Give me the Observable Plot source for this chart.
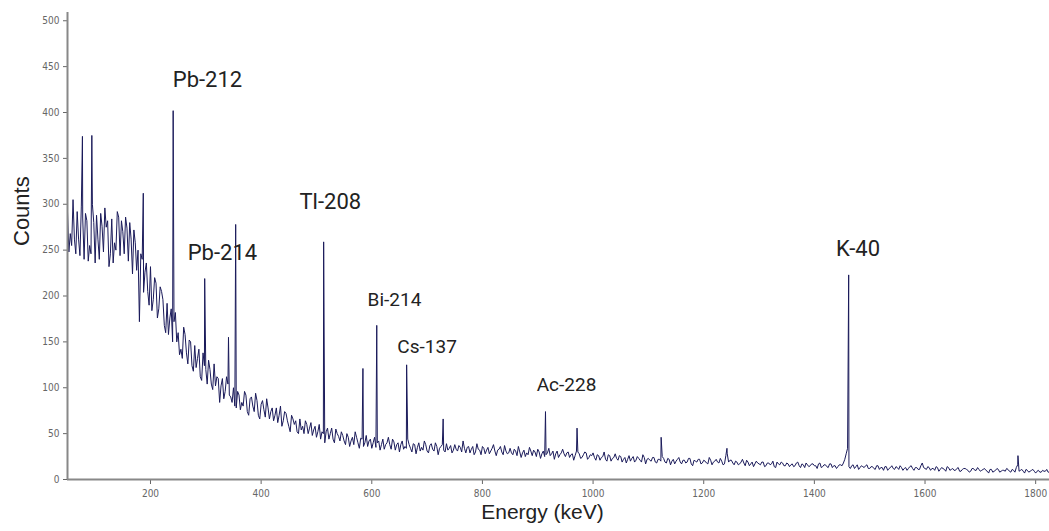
<!DOCTYPE html>
<html>
<head>
<meta charset="utf-8">
<script src="https://cdn.jsdelivr.net/npm/d3@7"></script>
<script src="https://cdn.jsdelivr.net/npm/@observablehq/plot@0.6"></script>
<style>
  html, body { margin: 0; padding: 0; background: #ffffff; }
  #chart { width: 1049px; height: 531px; }
</style>
</head>
<body>
<div id="chart"></div>
<script>
// Continuum channels: 50 .. 1825 keV every 5 keV
const continuumStart = 50;
const continuumStep = 5;
const continuumCounts = [
  292,268,305,246,262,298,240,282,255,300,236,262,290,248,275,232,284,258,292,244, // 50-145
  270,286,238,262,272,228,172,240,226,205,232,196,214,186,205,168,192,176,150,182, // 150-245
  160,142,166,138,152,124,146,132,112,138,120,130,104,126,112,84,110,96,104,90,    // 250-345
  100,78,92,84,96,74,88,80,94,70,82,76,88,66,78,70,62,80,64,72,                    // 350-445
  58,70,60,52,66,58,64,50,62,54,46,60,52,40,56,50,44,55,47,52,                     // 450-545
  42,50,36,46,52,40,45,36,48,42,34,46,40,32,44,38,46,33,41,38,                     // 550-645
  30,42,36,44,34,39,28,40,35,42,31,37,33,40,27,36,32,39,34,29,                     // 650-745
  38,31,35,42,29,36,33,27,39,32,36,28,35,31,38,26,33,30,37,28,                     // 750-845
  34,27,31,36,24,32,29,35,26,30,33,23,31,27,34,28,22,31,27,33,                     // 850-945
  25,30,27,21,31,28,24,30,22,27,29,21,26,24,30,20,26,23,28,21,                     // 950-1045
  25,22,18,26,23,19,25,21,27,17,23,20,24,18,22,25,19,23,16,22,                     // 1050-1145
  20,24,17,21,19,23,15,20,22,17,21,18,24,16,20,19,23,16,26,19,                     // 1150-1245
  21,16,19,17,22,15,19,17,14,20,17,19,14,18,16,20,13,17,19,15,                     // 1250-1345
  18,14,17,15,19,13,16,18,14,17,15,12,18,14,16,13,17,15,12,16,                     // 1350-1445
  15,22,34,12,16,14,11,15,13,16,12,14,11,15,13,10,14,12,15,11,                     // 1450-1545
  13,15,10,13,12,15,10,13,11,18,12,14,10,12,14,9,13,11,14,10,                      // 1550-1645
  12,10,13,9,12,11,8,12,10,13,9,11,10,7,11,9,12,8,10,9,                            // 1650-1745
  11,8,10,13,9,11,7,10,9,11,7,10,8,9,11,8                                          // 1750-1825
];

// Intermediate channels: 52.5 .. 1822.5 keV every 5 keV
const midStart = 52.5;
const midCounts = [
  248,255,262,292,244,285,290,238,246,280,288,240,276,296,282,246,236,250,286,282, // 52.5-147.5
  246,274,280,224,258,250,246,204,236,190,184,220,176,210,196,160,158,186,172,150, // 152.5-247.5
  136,132,158,126,150,118,122,142,108,124,104,120,98,102,110,102,88,112,92,84,     // 252.5-347.5
  80,96,76,80,92,70,90,74,86,66,86,68,78,74,64,78,70,58,74,64,                     // 352.5-447.5
  52,66,64,50,54,50,60,56,48,58,52,44,50,52,44,56,40,50,42,48,                     // 452.5-547.5
  38,46,42,38,46,34,44,40,36,44,40,35,42,38,33,40,38,44,32,40,                     // 552.5-647.5
  38,33,34,38,30,38,35,31,32,38,29,39,31,36,34,38,30,32,37,32,                     // 652.5-747.5
  33,37,30,34,35,29,36,30,33,27,34,32,28,34,31,32,36,27,31,29,                     // 752.5-847.5
  29,33,26,30,29,25,27,31,32,25,30,28,25,29,26,31,28,24,29,28,                     // 852.5-947.5
  29,24,28,26,30,23,27,29,24,26,24,27,21,25,22,27,20,24,23,26,                     // 952.5-1047.5
  19,24,22,20,25,21,23,19,24,22,21,24,19,22,20,23,18,22,20,17,                     // 1052.5-1147.5
  22,19,21,18,23,17,21,19,22,18,20,17,21,19,22,18,20,17,28,21,                     // 1152.5-1247.5
  18,20,16,19,18,21,15,19,17,18,16,19,15,18,17,14,19,16,18,15,                     // 1252.5-1347.5
  17,16,14,18,15,17,13,16,15,17,15,17,13,16,14,17,13,15,14,16,                     // 1352.5-1447.5
  18,28,14,15,12,16,13,14,15,12,14,12,15,11,13,14,10,13,12,14,                     // 1452.5-1547.5
  11,13,12,10,14,12,13,11,15,13,11,13,12,10,13,11,12,9,13,11,                      // 1552.5-1647.5
  10,12,9,11,12,10,9,12,10,11,10,12,9,11,8,10,11,9,10,12,                          // 1652.5-1747.5
  9,11,8,16,10,9,11,8,10,9,9,8,10,9,8                                              // 1752.5-1822.5
];

// Photopeak channels
const peakEnergies = [77, 94, 187, 241, 298, 341, 354, 513, 584, 609, 663, 729, 914, 971, 1123, 1242, 1462, 1768];
const peakCounts   = [374, 375, 312, 402, 219, 155, 278, 259, 121, 168, 125, 66, 74, 56, 46, 34, 223, 26];

// Nuclide annotations
const labelNames    = ["Pb-212", "Pb-214", "Tl-208", "K-40", "Bi-214", "Cs-137", "Ac-228"];
const labelEnergies = [303, 330, 525, 1479, 641, 700, 952];
const labelCounts   = [435, 247, 302, 251, 196, 145, 103];

const xTicks = [200, 400, 600, 800, 1000, 1200, 1400, 1600, 1800];
const yTicks = [0, 50, 100, 150, 200, 250, 300, 350, 400, 450, 500];
const xDomain = [50, 1825];
const yDomain = [0, 509];

// Build spectrum table
const spectrum = continuumCounts.map((c, i) => ({e: continuumStart + i * continuumStep, c}))
  .concat(midCounts.map((c, i) => ({e: midStart + i * continuumStep, c})))
  .concat(peakEnergies.map((e, i) => ({e, c: peakCounts[i]})))
  .sort((a, b) => a.e - b.e);

const labels = labelNames.map((name, i) => ({name, e: labelEnergies[i], c: labelCounts[i], big: i < 4}));

const tickFont = "'Liberation Sans Narrow', 'Arial Narrow', 'DejaVu Sans Condensed', sans-serif";

const chart = Plot.plot({
  width: 1049,
  height: 531,
  marginLeft: 67,
  marginRight: 0,
  marginTop: 12,
  marginBottom: 52,
  x: {domain: xDomain},
  y: {domain: yDomain},
  style: {background: "#ffffff", fontFamily: "Roboto, 'Liberation Sans', sans-serif"},
  marks: [
    Plot.axisY({ticks: yTicks, tickSize: 4, tickPadding: 4, tickFormat: d => String(d), label: null,
      fontSize: 10, fontFamily: tickFont, color: "#666"}),
    Plot.axisX({ticks: xTicks, tickSize: 5, tickPadding: 5, tickFormat: d => String(d), label: null,
      fontSize: 10, fontFamily: tickFont, color: "#666"}),
    Plot.line(spectrum, {x: "e", y: "c", stroke: "#1a1a5a", strokeWidth: 1, clip: true}),
    Plot.ruleX([xDomain[0]], {stroke: "#888", strokeWidth: 2}),
    Plot.ruleY([yDomain[0]], {stroke: "#888", strokeWidth: 2}),
    Plot.text(labels.filter(d => d.big), {x: "e", y: "c", text: "name", fontSize: 22, fill: "#222",
      fontFamily: "Roboto, sans-serif"}),
    Plot.text(labels.filter(d => !d.big), {x: "e", y: "c", text: "name", fontSize: 19, fill: "#222",
      fontFamily: "Roboto, sans-serif"}),
    Plot.text(["Counts"], {frameAnchor: "left", dx: -46, rotate: -90, fontSize: 22, fill: "#222",
      fontFamily: "'Liberation Sans', Arial, sans-serif"}),
    Plot.text(["Energy (keV)"], {frameAnchor: "bottom", dx: -16, dy: 39, fontSize: 21, fill: "#222",
      fontFamily: "'Liberation Sans', Arial, sans-serif"})
  ]
});

document.getElementById("chart").appendChild(chart);
</script>
</body>
</html>
